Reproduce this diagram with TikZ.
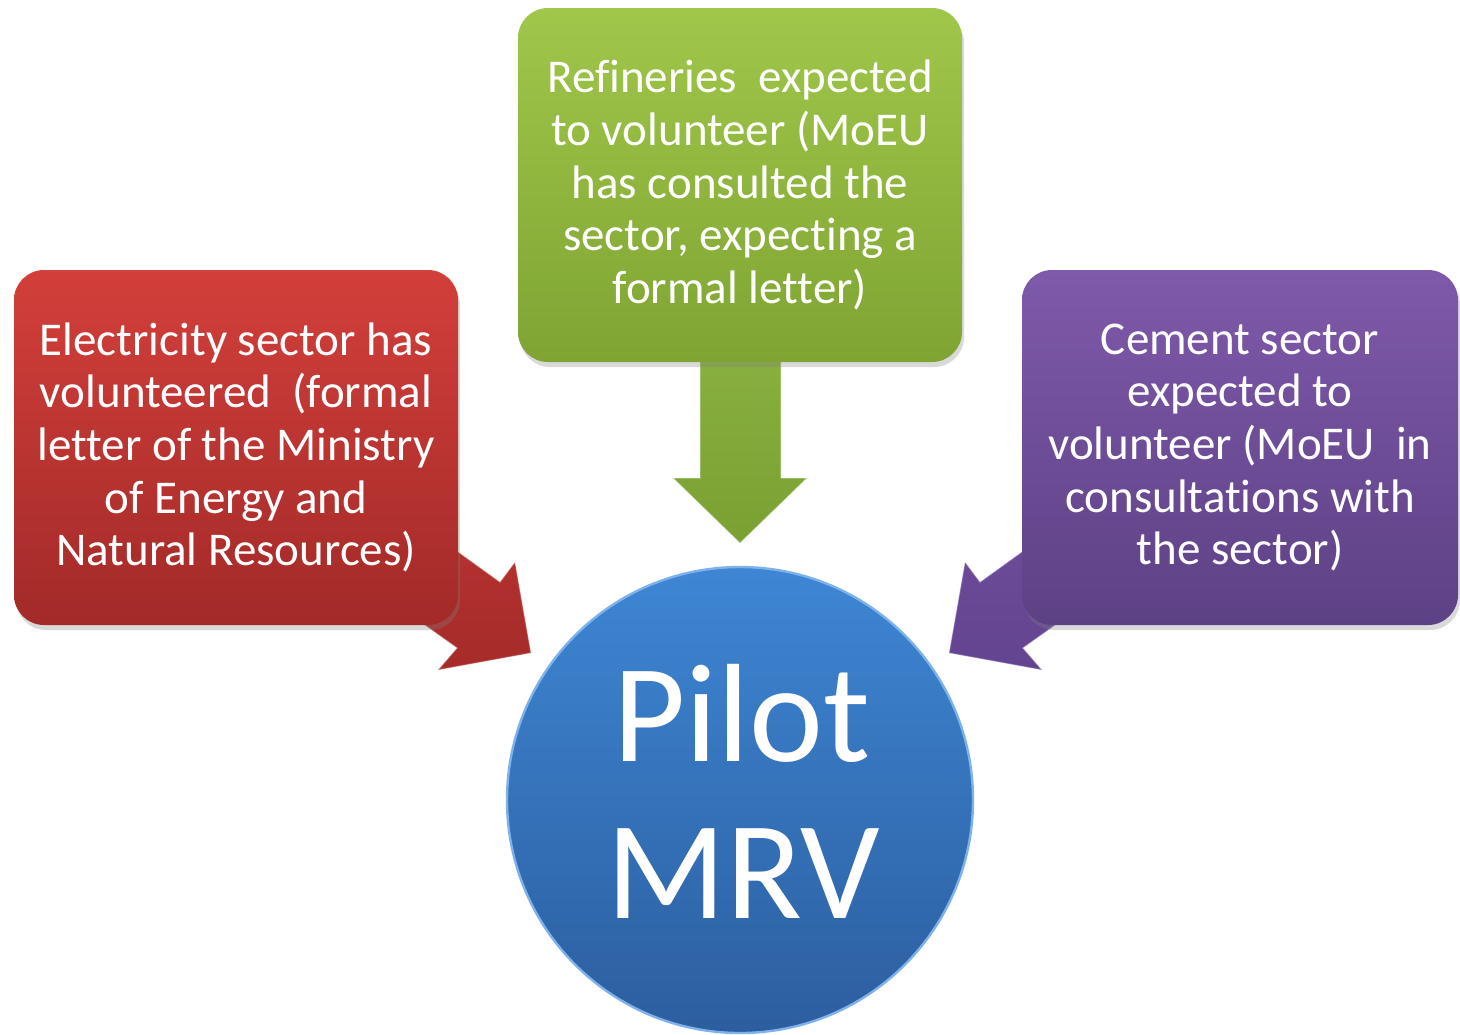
\documentclass[tikz,border=0pt]{standalone}
\usepackage{fontspec}
\setmainfont[Ligatures={NoCommon}]{Carlito}
\usetikzlibrary{shadows}
\definecolor{redtop}{HTML}{D33F3B}
\definecolor{redbot}{HTML}{A22A28}
\definecolor{redarrow}{HTML}{B83330}
\definecolor{redarrowb}{HTML}{A52B29}
\definecolor{greentop}{HTML}{A0C74A}
\definecolor{greenbot}{HTML}{7FA433}
\definecolor{greenarrow}{HTML}{8DB542}
\definecolor{greenarrowb}{HTML}{79A031}
\definecolor{purtop}{HTML}{7F59AA}
\definecolor{purbot}{HTML}{5D4185}
\definecolor{purarrow}{HTML}{6E4C9A}
\definecolor{purarrowb}{HTML}{634490}
\definecolor{bluetop}{HTML}{3E86D4}
\definecolor{bluebot}{HTML}{2C5E9F}
\definecolor{bluerim}{HTML}{7FB2EA}
\begin{document}
\begin{tikzpicture}[x=0.5pt,y=-0.5pt,
  box/.style={rounded corners=15pt, inner sep=0pt, align=center, text=white,
    font=\fontsize{23.5}{26.35}\selectfont,
    drop shadow={opacity=0.3, shadow xshift=1pt, shadow yshift=-2.5pt}},
  blockarrow/.style={draw=white, draw opacity=0.35, line width=0.6pt, line join=miter},
  pilotcircle/.style={circle, inner sep=0pt, minimum size=233pt,
    top color=bluetop, bottom color=bluebot, draw=bluerim, line width=1.2pt},
  pilottext/.style={anchor=base, inner sep=0pt, text=white, font=\fontsize{70}{78}\selectfont}
]
\useasboundingbox (0,0) rectangle (1460,1034);

% block arrows (drawn beneath the boxes)
\coordinate (gA) at (700,300); \coordinate (gB) at (700,478); \coordinate (gC) at (673,478);
\coordinate (gT) at (740,543); \coordinate (gD) at (807,478); \coordinate (gE) at (781,478);
\coordinate (gF) at (781,300);
\shade[blockarrow, top color=greenarrow, bottom color=greenarrowb]
  (gA) -- (gB) -- (gC) -- (gT) -- (gD) -- (gE) -- (gF) -- cycle;

\coordinate (rA) at (400,510); \coordinate (rB) at (500,582); \coordinate (rC) at (515,562);
\coordinate (rT) at (531,653); \coordinate (rD) at (438,670); \coordinate (rE) at (457,648);
\coordinate (rF) at (357,577);
\shade[blockarrow, top color=redarrow, bottom color=redarrowb]
  (rA) -- (rB) -- (rC) -- (rT) -- (rD) -- (rE) -- (rF) -- cycle;

\coordinate (pA) at (1080,510); \coordinate (pB) at (980,582); \coordinate (pC) at (965,562);
\coordinate (pT) at (949,653); \coordinate (pD) at (1042,670); \coordinate (pE) at (1023,648);
\coordinate (pF) at (1123,577);
\shade[blockarrow, top color=purarrow, bottom color=purarrowb]
  (pA) -- (pB) -- (pC) -- (pT) -- (pD) -- (pE) -- (pF) -- cycle;

% boxes
\node[box, minimum width=222pt, minimum height=177.5pt, top color=redtop, bottom color=redbot]
  (elec) at (236,447.5) {Electricity sector has\\volunteered~ (formal\\letter of the Ministry\\of Energy and\\Natural Resources)};
\node[box, minimum width=222pt, minimum height=177pt, top color=greentop, bottom color=greenbot]
  (ref) at (740,185) {Refineries~ expected\\to volunteer (MoEU\\has consulted the\\sector, expecting a\\formal letter)};
\node[box, minimum width=218pt, minimum height=177.5pt, top color=purtop, bottom color=purbot]
  (cem) at (1240,447.5) {Cement sector\\expected to\\volunteer (MoEU~ in\\consultations with\\the sector)};

% circle
\node[pilotcircle] (pilot) at (740,800) {};
\node[pilottext] (pilotA) at (742,761) {Pilot};
\node[pilottext] (pilotB) at (743,918) {MRV};
\end{tikzpicture}
\end{document}
